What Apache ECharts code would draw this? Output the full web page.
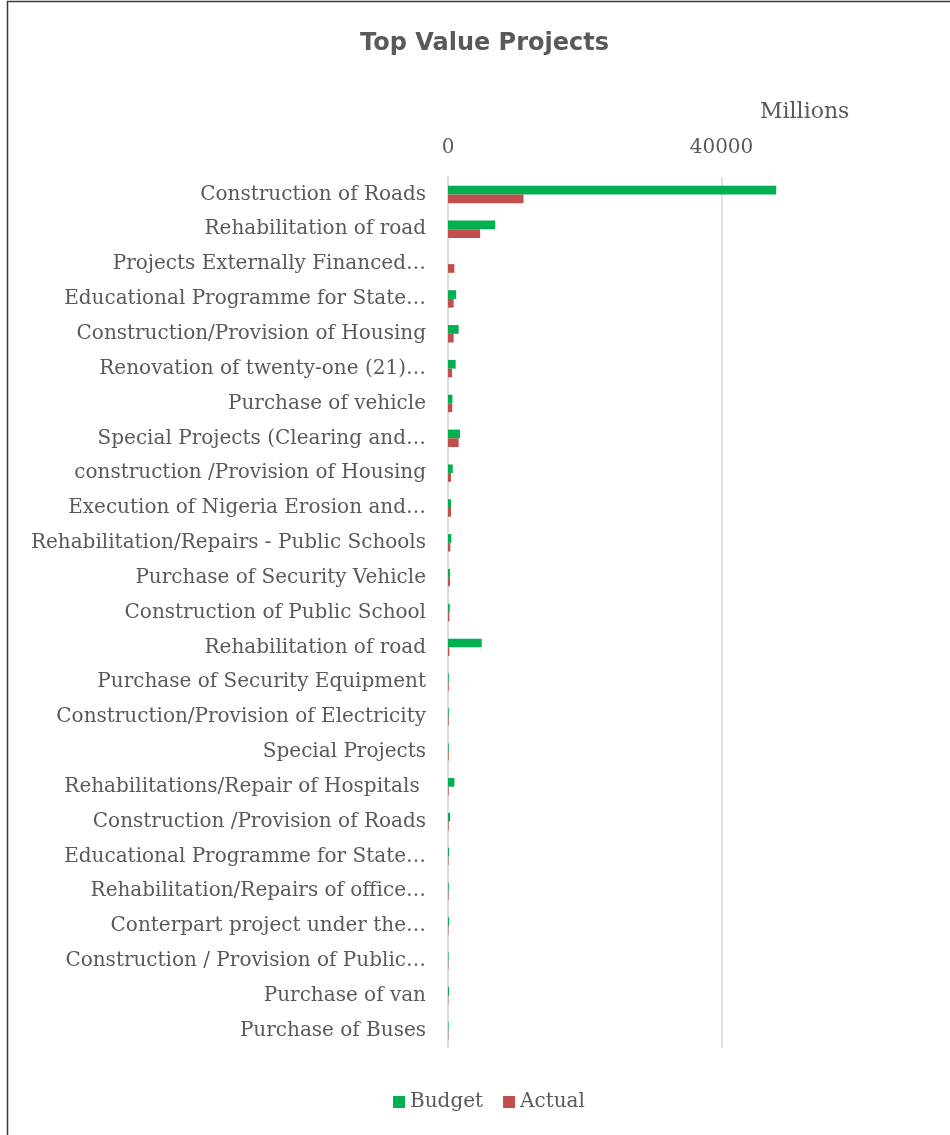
<!DOCTYPE html>
<html>
<head>
<meta charset="utf-8">
<script src="https://cdn.jsdelivr.net/npm/echarts@6/dist/echarts.min.js"></script>
<style>
  html, body { margin: 0; padding: 0; background: #fff; }
  #chart { width: 950px; height: 1135px; }
</style>
</head>
<body>
<div id="chart"></div>
<script>
// Project names, listed top to bottom
const projects = [
  'Construction of Roads',
  'Rehabilitation of road',
  'Projects Externally Financed…',
  'Educational Programme for State…',
  'Construction/Provision of Housing',
  'Renovation of twenty-one (21)…',
  'Purchase of vehicle',
  'Special Projects (Clearing and…',
  'construction /Provision of Housing',
  'Execution of Nigeria Erosion and…',
  'Rehabilitation/Repairs - Public Schools',
  'Purchase of Security Vehicle',
  'Construction of Public School',
  'Rehabilitation of road',
  'Purchase of Security Equipment',
  'Construction/Provision of Electricity',
  'Special Projects',
  'Rehabilitations/Repair of Hospitals ',
  'Construction /Provision of Roads',
  'Educational Programme for State…',
  'Rehabilitation/Repairs of office…',
  'Conterpart project under the…',
  'Construction / Provision of Public…',
  'Purchase of van',
  'Purchase of Buses'
];

// Values in millions
const budget = [48000, 6900, 0, 1200, 1550, 1120, 640, 1750, 690, 440, 490, 290, 250, 4930, 120, 110, 110, 930, 300, 150, 100, 150, 80, 150, 80];
const actual = [11050, 4700, 930, 830, 830, 590, 620, 1560, 440, 440, 340, 290, 200, 200, 100, 100, 100, 100, 100, 80, 80, 60, 60, 50, 60];

// Value axis ticks
const axisMin = 0;
const axisMax = 80000;
const axisStep = 40000;

const textColor = '#595959';
const serif = '"DejaVu Serif", "Liberation Serif", serif';

const chart = echarts.init(document.getElementById('chart'), null, { renderer: 'canvas' });

chart.setOption({
  backgroundColor: '#ffffff',
  animation: false,
  title: {
    text: 'Top Value Projects',
    left: 355,
    top: 27,
    textStyle: {
      fontFamily: '"DejaVu Sans", Verdana, sans-serif',
      fontWeight: 'bold',
      fontSize: 24,
      color: textColor
    }
  },
  graphic: [
    {
      type: 'rect',
      silent: true,
      shape: { x: 7.5, y: 1.5, width: 1100, height: 1300 },
      style: { fill: 'none', stroke: '#3a3a3a', lineWidth: 1.5 }
    },
    {
      type: 'text',
      left: 760,
      top: 101,
      style: {
        text: 'Millions',
        fontFamily: serif,
        fontSize: 22,
        fill: textColor
      }
    }
  ],
  legend: {
    data: ['Budget', 'Actual'],
    left: 388,
    top: 1087,
    icon: 'rect',
    itemWidth: 12,
    itemHeight: 12,
    itemGap: 20,
    textStyle: { fontFamily: serif, fontSize: 20, color: textColor }
  },
  grid: {
    left: 448,
    top: 177,
    bottom: 87,
    right: -45,
    containLabel: false,
    outerBoundsMode: 'none'
  },
  xAxis: {
    type: 'value',
    position: 'top',
    min: axisMin,
    max: axisMax,
    interval: axisStep,
    axisLine: { show: false },
    axisTick: { show: false },
    axisLabel: {
      margin: 19,
      fontFamily: serif,
      fontSize: 20,
      color: textColor,
      formatter: (v) => String(v)
    },
    splitLine: { lineStyle: { color: '#d9d9d9', width: 1.5 } }
  },
  yAxis: {
    type: 'category',
    inverse: true,
    data: projects,
    axisLine: { show: true, lineStyle: { color: '#d9d9d9', width: 1.5 } },
    axisTick: { show: false },
    axisLabel: {
      margin: 22,
      fontFamily: serif,
      fontSize: 20,
      color: textColor
    }
  },
  series: [
    {
      name: 'Budget',
      type: 'bar',
      data: budget,
      barGap: '0%',
      barCategoryGap: '50%',
      itemStyle: { color: '#00b050' }
    },
    {
      name: 'Actual',
      type: 'bar',
      data: actual,
      itemStyle: { color: '#c0504d' }
    }
  ]
});
</script>
</body>
</html>
